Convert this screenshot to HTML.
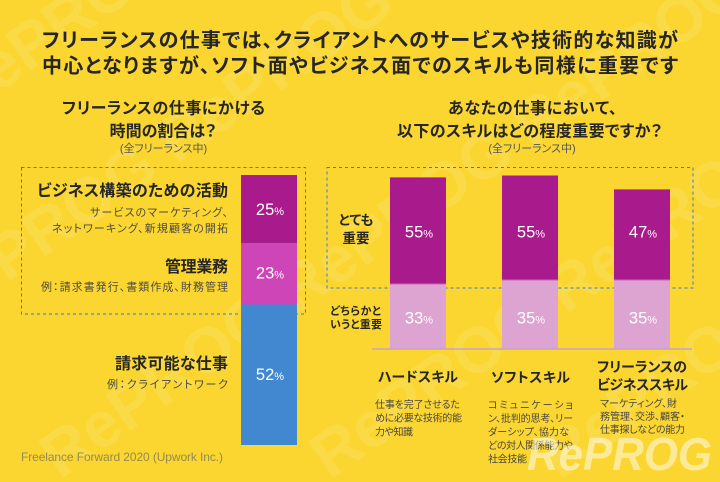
<!DOCTYPE html>
<html><head><meta charset="utf-8">
<style>
html,body{margin:0;padding:0;background:#FBD630;width:720px;height:482px;overflow:hidden;}
svg{display:block;overflow:hidden;}
text{font-family:"Liberation Sans","Noto Sans CJK JP",sans-serif;font-feature-settings:"palt";}
.b{font-weight:700;fill:#262626;}
.d{fill:#4d4a42;font-size:11px;}
.s{fill:#4a4740;font-size:10px;}
.p{fill:#fff;font-family:"Liberation Sans",sans-serif;}
</style></head><body>
<svg width="720" height="482" viewBox="0 0 720 482" xmlns="http://www.w3.org/2000/svg">
<defs><clipPath id="c"><rect width="720" height="482"/></clipPath></defs>
<g clip-path="url(#c)">
<rect width="720" height="482" fill="#FBD630"/>
<g fill="#fff" opacity="0.11" font-weight="700" font-size="64" style="font-family:'Liberation Sans',sans-serif">
  <text x="-40" y="120" transform="rotate(-35 -40 120)">RePROG RePROG</text>
  <text x="-60" y="330" transform="rotate(-35 -60 330)">RePROG RePROG RePROG</text>
  <text x="60" y="480" transform="rotate(-35 60 480)">RePROG RePROG RePROG</text>
  <text x="330" y="480" transform="rotate(-35 330 480)">RePROG RePROG</text>
  <text x="560" y="480" transform="rotate(-35 560 480)">RePROG RePROG</text>
</g>

<!-- Title -->
<text class="b" x="42" y="47" font-size="20" textLength="636" lengthAdjust="spacing">フリーランスの仕事では、クライアントへのサービスや技術的な知識が</text>
<text class="b" x="42" y="72.5" font-size="20" textLength="636" lengthAdjust="spacing">中心となりますが、ソフト面やビジネス面でのスキルも同様に重要です</text>

<!-- Subtitles -->
<text class="b" x="62" y="113.5" font-size="16" textLength="203" lengthAdjust="spacing">フリーランスの仕事にかける</text>
<text class="b" x="163" y="136.5" font-size="16" text-anchor="middle">時間の割合は？</text>
<text x="163.5" y="152" font-size="11" fill="#555" text-anchor="middle">(全フリーランス中)</text>

<text class="b" x="448" y="113.5" font-size="16" textLength="169" lengthAdjust="spacing">あなたの仕事において、</text>
<text class="b" x="397" y="136.5" font-size="16" textLength="265" lengthAdjust="spacing">以下のスキルはどの程度重要ですか？</text>
<text x="532" y="152" font-size="11" fill="#555" text-anchor="middle">(全フリーランス中)</text>

<!-- Left dashed box -->
<rect x="21.5" y="167.5" width="284" height="146.5" fill="none" stroke="#2F7BE0" stroke-width="1" stroke-dasharray="3 3"/>

<!-- Left bar -->
<rect x="241" y="175" width="56" height="68" fill="#A91A8C"/>
<rect x="241" y="242.5" width="56" height="62" fill="#CD45B6"/>
<line x1="241" y1="242.5" x2="297" y2="242.5" stroke="#A0208A" stroke-width="1"/>
<rect x="241" y="304.5" width="56" height="140.5" fill="#4288D0"/>

<text class="p" x="270" y="215" text-anchor="middle"><tspan font-size="16.5">25</tspan><tspan font-size="11">%</tspan></text>
<text class="p" x="270" y="278.5" text-anchor="middle"><tspan font-size="16.5">23</tspan><tspan font-size="11">%</tspan></text>
<text class="p" x="270" y="380" text-anchor="middle"><tspan font-size="16.5">52</tspan><tspan font-size="11">%</tspan></text>

<!-- Left labels -->
<text class="b" x="37" y="196" font-size="16" textLength="191" lengthAdjust="spacing">ビジネス構築のための活動</text>
<text class="d" x="90" y="216" textLength="138" lengthAdjust="spacing">サービスのマーケティング、</text>
<text class="d" x="52" y="232" textLength="176" lengthAdjust="spacing">ネットワーキング、新規顧客の開拓</text>
<text class="b" x="165" y="272" font-size="16" textLength="63" lengthAdjust="spacing">管理業務</text>
<text class="d" x="41" y="290.5" textLength="187" lengthAdjust="spacing">例：請求書発行、書類作成、財務管理</text>
<text class="b" x="115" y="369" font-size="16" textLength="113" lengthAdjust="spacing">請求可能な仕事</text>
<text class="d" x="107" y="388" textLength="121" lengthAdjust="spacing">例：クライアントワーク</text>

<text x="21" y="461" font-size="12" fill="#968a4e" textLength="202" lengthAdjust="spacing">Freelance Forward 2020 (Upwork Inc.)</text>

<!-- Right dashed box -->
<rect x="327" y="167.5" width="366" height="120.5" fill="none" stroke="#2F7BE0" stroke-width="1" stroke-dasharray="3 3"/>

<!-- Right bars -->
<rect x="390" y="177" width="56" height="107" fill="#A91A8C"/>
<rect x="390" y="284" width="56" height="64.5" fill="#DDA3D1"/>
<line x1="390" y1="177.5" x2="446" y2="177.5" stroke="#C25AAE" stroke-width="1"/>
<line x1="390" y1="284" x2="446" y2="284" stroke="#C46AB4" stroke-width="1"/>

<rect x="502" y="175.5" width="56" height="104.5" fill="#A91A8C"/>
<rect x="502" y="280" width="56" height="68.5" fill="#DDA3D1"/>
<line x1="502" y1="280" x2="558" y2="280" stroke="#C46AB4" stroke-width="1"/>

<rect x="614" y="189" width="56" height="91" fill="#A91A8C"/>
<rect x="614" y="280" width="56" height="68.5" fill="#DDA3D1"/>
<line x1="614" y1="189.5" x2="670" y2="189.5" stroke="#C25AAE" stroke-width="1"/>
<line x1="614" y1="280" x2="670" y2="280" stroke="#C46AB4" stroke-width="1"/>

<line x1="372" y1="349" x2="692" y2="349" stroke="#C9A2C2" stroke-width="1.5"/>

<text class="p" x="419" y="237.3" text-anchor="middle"><tspan font-size="16.5">55</tspan><tspan font-size="11">%</tspan></text>
<text class="p" x="419" y="323.3" text-anchor="middle"><tspan font-size="16.5">33</tspan><tspan font-size="11">%</tspan></text>
<text class="p" x="531" y="237.3" text-anchor="middle"><tspan font-size="16.5">55</tspan><tspan font-size="11">%</tspan></text>
<text class="p" x="531" y="323.3" text-anchor="middle"><tspan font-size="16.5">35</tspan><tspan font-size="11">%</tspan></text>
<text class="p" x="643" y="237.3" text-anchor="middle"><tspan font-size="16.5">47</tspan><tspan font-size="11">%</tspan></text>
<text class="p" x="643" y="323.3" text-anchor="middle"><tspan font-size="16.5">35</tspan><tspan font-size="11">%</tspan></text>

<!-- Right row labels -->
<text class="b" x="356" y="225" font-size="13.5" text-anchor="middle">とても</text>
<text class="b" x="356" y="243" font-size="13.5" text-anchor="middle">重要</text>
<text class="b" x="330" y="314.5" font-size="11" textLength="51" lengthAdjust="spacing">どちらかと</text>
<text class="b" x="330" y="328" font-size="11" textLength="52" lengthAdjust="spacing">いうと重要</text>

<!-- Skill labels -->
<text class="b" x="378" y="382" font-size="14" textLength="80" lengthAdjust="spacing">ハードスキル</text>
<text class="b" x="491" y="382.5" font-size="14" textLength="79" lengthAdjust="spacing">ソフトスキル</text>
<text class="b" x="597" y="372" font-size="14" textLength="90" lengthAdjust="spacing">フリーランスの</text>
<text class="b" x="597" y="390" font-size="14" textLength="91" lengthAdjust="spacing">ビジネススキル</text>

<!-- Descriptions -->
<text class="s" x="375" y="408" textLength="85" lengthAdjust="spacing">仕事を完了させるた</text>
<text class="s" x="375" y="421.7" textLength="87" lengthAdjust="spacing">めに必要な技術的能</text>
<text class="s" x="375" y="435.3" textLength="38" lengthAdjust="spacing">力や知識</text>

<text class="s" x="488" y="408.3" textLength="85" lengthAdjust="spacing">コミュニケーショ</text>
<text class="s" x="488" y="421.9" textLength="85" lengthAdjust="spacing">ン、批判的思考、リー</text>
<text class="s" x="488" y="435.5" textLength="81" lengthAdjust="spacing">ダーシップ、協力な</text>
<text class="s" x="488" y="449.1" textLength="85" lengthAdjust="spacing">どの対人関係能力や</text>
<text class="s" x="488" y="462.7" textLength="39" lengthAdjust="spacing">社会技能</text>

<text class="s" x="600" y="407" textLength="77" lengthAdjust="spacing">マーケティング、財</text>
<text class="s" x="600" y="420" textLength="85" lengthAdjust="spacing">務管理、交渉、顧客・</text>
<text class="s" x="600" y="433" textLength="85" lengthAdjust="spacing">仕事探しなどの能力</text>

<!-- Logo watermark -->
<text x="527" y="470" font-size="46" font-weight="700" font-style="italic" fill="#fff" opacity="0.5" textLength="185" lengthAdjust="spacingAndGlyphs" style="font-family:'Liberation Sans',sans-serif">RePROG</text>
</g>
</svg>
</body></html>
